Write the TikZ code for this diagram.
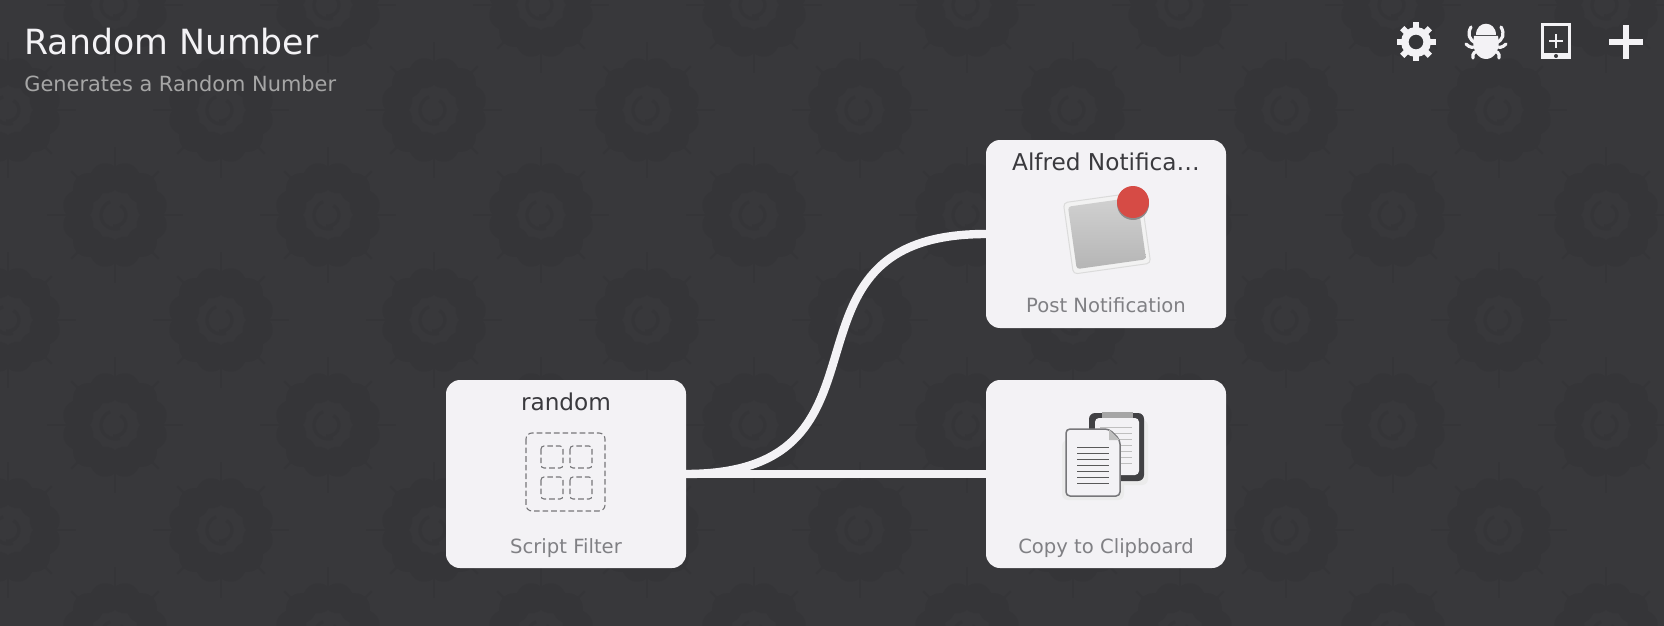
\documentclass[tikz,border=0pt]{standalone}
\usepackage{fontspec}
\setmainfont{DejaVu Sans}
\definecolor{bgdark}{HTML}{38383B}
\definecolor{bgrose}{HTML}{353538}
\definecolor{cardface}{HTML}{F3F2F5}
\definecolor{titleink}{HTML}{3A3A3E}
\definecolor{subink}{HTML}{808084}
\definecolor{iconink}{HTML}{77777A}
\definecolor{boardink}{HTML}{414144}
\definecolor{dotred}{HTML}{D64B45}
\tikzset{
  card/.style={fill=cardface, rounded corners=7pt, minimum width=120pt, minimum height=94pt, inner sep=0pt},
  cardtitle/.style={anchor=base, inner sep=0pt, text=titleink, font=\fontsize{11.6}{14}\selectfont},
  cardsub/.style={anchor=base, inner sep=0pt, text=subink, font=\fontsize{9.8}{12}\selectfont},
  wire/.style={draw=cardface, line width=4.2pt},
  dashbox/.style={draw=iconink, line width=0.55pt, dash pattern=on 2.8pt off 1.5pt},
  rosette/.pic={
    \foreach \a in {15,45,...,345} \fill[bgrose] (\a:38) circle (15);
    \foreach \a in {0,90,180,270} \draw[bgrose, line width=1.2pt] (\a:48) -- (\a:68);
    \foreach \a in {45,135,225,315} \draw[bgrose, line width=1.2pt] (\a:50) -- (\a:62);
    \draw[bgrose, line width=1.6pt] (70:14) arc[start angle=70, end angle=250, radius=14];
    \draw[bgrose, line width=1.6pt] (-60:11) arc[start angle=-60, end angle=100, radius=11];
  }
}
\begin{document}
\begin{tikzpicture}[x=0.5pt, y=-0.5pt]
  \fill[bgdark] (0,0) rectangle (1664,626);
  \useasboundingbox (0,0) rectangle (1664,626);

  % wallpaper
  \clip (0,0) rectangle (1664,626);
  \foreach \row in {-1,...,5} {
    \foreach \col in {0,...,7} {
      \pgfmathsetmacro{\px}{8+213*\col+107*mod(\row+2,2)}
      \pgfmathsetmacro{\py}{110+105*\row}
      \pic at (\px,\py) {rosette};
    }
  }

  \node[anchor=base west, inner sep=0pt, text=cardface, font=\fontsize{17.35}{20}\selectfont] (wftitle) at (24,55) {Random Number};
  \node[anchor=base west, inner sep=0pt, text=black!35!white, font=\fontsize{10.45}{13}\selectfont] (wfsub) at (24,92) {Generates a Random Number};

  % toolbar: gear
  \draw[cardface, line width=3.75pt] (1416,42) circle (11.2);
  \foreach \a in {0,45,...,315}
    \draw[cardface, line width=3pt] (1416,42) ++(\a:13) -- ++(\a:6.5);

  % toolbar: bug
  \fill[cardface] (1476,35) .. controls (1476,20) and (1496,20) .. (1496,35) -- cycle;
  \fill[cardface] (1474,36) -- (1498,36) .. controls (1501,50) and (1494,59) .. (1486,59) .. controls (1478,59) and (1471,50) .. (1474,36) -- cycle;
  \draw[cardface, line width=1.6pt, line cap=round]
    (1471,27) .. controls (1467,34) and (1469,40) .. (1476,43)
    (1501,27) .. controls (1505,34) and (1503,40) .. (1496,43)
    (1466,44) .. controls (1470,48) and (1473,48) .. (1477,46)
    (1506,44) .. controls (1502,48) and (1499,48) .. (1495,46)
    (1473,58) .. controls (1472,53) and (1475,51) .. (1480,51)
    (1499,58) .. controls (1500,53) and (1497,51) .. (1492,51);

  % toolbar: tablet and plus
  \fill[cardface] (1541,23) rectangle (1571,59);
  \fill[bgdark] (1544,26) rectangle (1568,53);
  \draw[cardface, line width=0.75pt] (1549,41) -- (1563,41) (1556,34) -- (1556,48);
  \fill[bgdark] (1556,56) circle (2);
  \draw[cardface, line width=2.75pt] (1609,42) -- (1643,42) (1626,25) -- (1626,59);

  % wires go under the cards
  \coordinate (random east) at (686,474);
  \coordinate (notify west) at (986,234);
  \coordinate (clip west) at (986,474);
  \draw[wire] (random east) -- (clip west);
  \draw[wire] (random east) .. controls (914,474) and (758,234) .. (notify west);

  \node[card] (random) at (566,474) {};
  \node[card] (notify) at (1106,234) {};
  \node[card] (clip) at (1106,474) {};

  \node[cardtitle] (random title) at (566,410) {random};
  \node[cardsub] (random sub) at (566,553) {Script Filter};
  \node[cardtitle] (notify title) at (1106,170) {Alfred Notifica…};
  \node[cardsub] (notify sub) at (1106,312) {Post Notification};
  \node[cardsub] (clip sub) at (1106,553) {Copy to Clipboard};

  % script filter icon
  \draw[dashbox, rounded corners=3pt] (526,433) rectangle (605,511);
  \foreach \bx/\by in {541/446,570/446,541/477,570/477}
    \draw[dashbox, rounded corners=1.5pt] (\bx,\by) rectangle ++(22,22);

  % notification icon
  \node[rotate=8, fill=white!95!black, draw=black!14, line width=0.5pt, rounded corners=2pt, minimum width=39pt, minimum height=36pt] (sheet) at (1107,233) {};
  \node[rotate=8, top color=black!18, bottom color=black!29, rounded corners=1.5pt, minimum width=35pt, minimum height=31.5pt, inner sep=0pt] (sheet face) at (1107,233) {};
  \fill[black!45] (1133,204) circle (16);
  \node[circle, fill=dotred, minimum size=16pt, inner sep=0pt] (red dot) at (1133,202) {};

  % clipboard icon
  \fill[black!8, rounded corners=3pt] (1062,440) rectangle (1124,500);
  \fill[black!8, rounded corners=3pt] (1100,420) rectangle (1148,485);
  \fill[boardink, rounded corners=3pt] (1089,413) rectangle (1144,481);
  \fill[cardface, rounded corners=2pt] (1095,418) rectangle (1139,475);
  \fill[black!35] (1102,412) rectangle (1133,418);
  \foreach \ly in {427,433,439,445,451,457,463}
    \draw[black!25, line width=0.4pt] (1100,\ly) -- (1132,\ly);
  \draw[iconink, fill=cardface, line width=0.75pt, rounded corners=2pt] (1066,429) -- (1109,429) -- (1120,440) -- (1120,496) -- (1066,496) -- cycle;
  \fill[black!25] (1109,429.5) -- (1119.5,440) -- (1109,440) -- cycle;
  \foreach \ly in {447,453,459,465,471,477,483}
    \draw[black!65, line width=0.5pt] (1077,\ly) -- (1109,\ly);
\end{tikzpicture}
\end{document}
